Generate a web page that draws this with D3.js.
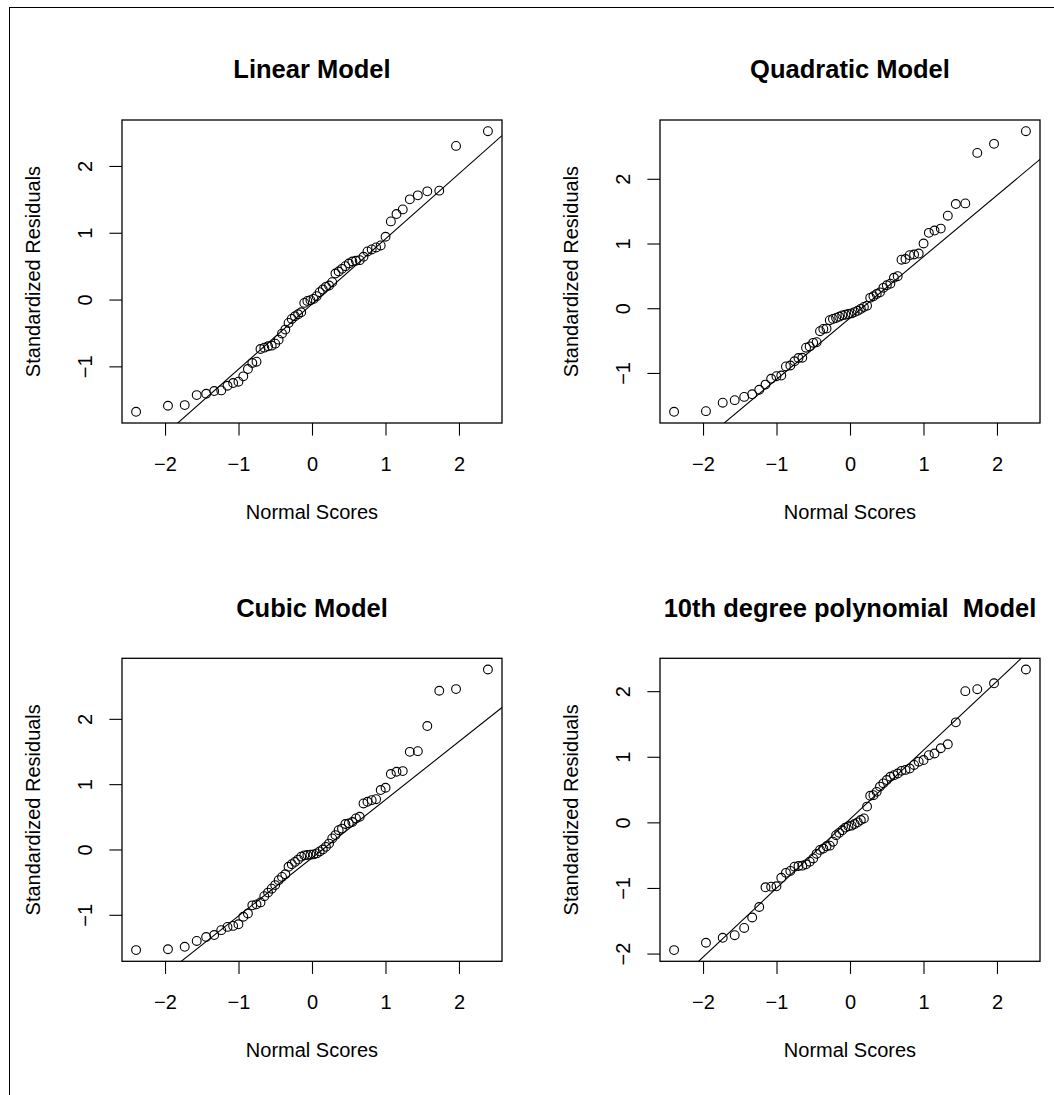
<!DOCTYPE html>
<html lang="en">
<head>
<meta charset="UTF-8">
<title>Normal QQ plots of standardized residuals</title>
<script src="https://d3js.org/d3.v7.min.js"></script>
<style>
  body { margin: 0; background: #fff; }
  svg text { font-family: "Liberation Sans", Arial, Helvetica, sans-serif; fill: #000; }
</style>
</head>
<body>
<svg width="1054" height="1095"></svg>
<script>
// normal scores (x values) shared by all four panels, n = 60
var normalScores = [
  -2.394, -1.960, -1.732, -1.569, -1.440, -1.331, -1.235, -1.150, -1.073, -1.001,
  -0.935, -0.872, -0.812, -0.755, -0.701, -0.649, -0.598, -0.549, -0.501, -0.454,
  -0.408, -0.363, -0.319, -0.275, -0.232, -0.189, -0.147, -0.105, -0.063, -0.021,
   0.021,  0.063,  0.105,  0.147,  0.189,  0.232,  0.275,  0.319,  0.363,  0.408,
   0.454,  0.501,  0.549,  0.598,  0.649,  0.701,  0.755,  0.812,  0.872,  0.935,
   1.001,  1.073,  1.150,  1.235,  1.331,  1.440,  1.569,  1.732,  1.960,  2.394
];

// sorted standardized residuals, one array per model
var linearResid = [
  -1.68, -1.59, -1.58, -1.43, -1.41, -1.37, -1.36, -1.29, -1.25, -1.23,
  -1.15, -1.04, -0.95, -0.93, -0.74, -0.72, -0.70, -0.69, -0.66, -0.60,
  -0.51, -0.45, -0.35, -0.29, -0.25, -0.22, -0.19, -0.05, -0.02, -0.01,
   0.01,  0.05,  0.11,  0.15,  0.19,  0.21,  0.26,  0.39,  0.42,  0.46,
   0.50,  0.54,  0.57,  0.58,  0.59,  0.64,  0.72,  0.75,  0.78,  0.81,
   0.94,  1.17,  1.28,  1.35,  1.50,  1.56,  1.62,  1.63,  2.30,  2.52
];
var quadraticResid = [
  -1.60, -1.59, -1.46, -1.42, -1.37, -1.33, -1.26, -1.18, -1.09, -1.05,
  -1.04, -0.90, -0.885, -0.82, -0.77, -0.765, -0.61, -0.59, -0.535, -0.525,
  -0.355, -0.32, -0.315, -0.185, -0.165, -0.15, -0.13, -0.11, -0.10, -0.09,
  -0.08, -0.06, -0.04, -0.01, 0.02, 0.04, 0.16, 0.185, 0.22, 0.245,
   0.315, 0.355, 0.38, 0.47, 0.495, 0.75, 0.76, 0.82, 0.83, 0.845,
   1.00, 1.165, 1.20, 1.23, 1.43, 1.61, 1.62, 2.40, 2.54, 2.735
];
var cubicResid = [
  -1.54, -1.527, -1.49, -1.40, -1.34, -1.31, -1.235, -1.185, -1.17, -1.145,
  -1.03, -0.98, -0.855, -0.84, -0.81, -0.715, -0.66, -0.60, -0.545, -0.47,
  -0.42, -0.38, -0.265, -0.225, -0.19, -0.155, -0.11, -0.09, -0.085, -0.08,
  -0.075, -0.06, -0.03, 0.0, 0.04, 0.09, 0.17, 0.22, 0.295, 0.32,
   0.39, 0.40, 0.42, 0.475, 0.50, 0.705, 0.73, 0.755, 0.77, 0.91,
   0.945, 1.155, 1.19, 1.20, 1.495, 1.505, 1.89, 2.43, 2.455, 2.755
];
var poly10Resid = [
  -1.947, -1.835, -1.76, -1.72, -1.61, -1.45, -1.29, -0.99, -0.98, -0.975,
  -0.845, -0.77, -0.74, -0.675, -0.665, -0.66, -0.64, -0.60, -0.55, -0.48,
  -0.42, -0.40, -0.365, -0.355, -0.295, -0.195, -0.16, -0.12, -0.08, -0.06,
  -0.05, -0.025, 0.0, 0.035, 0.06, 0.24, 0.405, 0.415, 0.465, 0.545,
   0.595, 0.645, 0.695, 0.72, 0.745, 0.785, 0.80, 0.82, 0.875, 0.925,
   0.95, 1.025, 1.05, 1.13, 1.19, 1.525, 2.00, 2.03, 2.12, 2.33
];

var titles = ["Linear Model", "Quadratic Model", "Cubic Model", "10th degree polynomial  Model"];
var residuals = [linearResid, quadraticResid, cubicResid, poly10Resid];
// qqline of each panel (intercept, slope)
var lineIntercept = [-0.067, -0.151, -0.128, 0.049];
var lineSlope = [0.975, 0.948, 0.890, 1.052];
var xTicks = [-2, -1, 0, 1, 2];
var yTicks = [[-1, 0, 1, 2], [-1, 0, 1, 2], [-1, 0, 1, 2], [-2, -1, 0, 1, 2]];

var svg = d3.select("svg");

// outer frame
svg.append("rect")
  .attr("x", 9.5).attr("y", 7.5)
  .attr("width", 1200).attr("height", 1200)
  .attr("fill", "none").attr("stroke", "#000").attr("stroke-width", 1);

var lefts = [122, 660], tops = [120, 658.3];
var pw = 380, ph = 303, tick = 12.6;

function pad(ext) {
  var e = (ext[1] - ext[0]) * 0.04;
  return [ext[0] - e, ext[1] + e];
}

var x = d3.scaleLinear().domain(pad(d3.extent(normalScores))).range([0, pw]);
var fmt = d3.format("d");

residuals.forEach(function(res, i) {
  var col = i % 2, row = Math.floor(i / 2);
  var g = svg.append("g")
    .attr("transform", "translate(" + lefts[col] + "," + tops[row] + ")");

  var y = d3.scaleLinear().domain(pad(d3.extent(res))).range([ph, 0]);

  g.append("clipPath").attr("id", "clip" + i)
    .append("rect").attr("width", pw).attr("height", ph);

  // reference line
  var xd = x.domain();
  g.append("path")
    .datum(xd)
    .attr("clip-path", "url(#clip" + i + ")")
    .attr("fill", "none").attr("stroke", "#000").attr("stroke-width", 1.1)
    .attr("d", d3.line()
      .x(function(d) { return x(d); })
      .y(function(d) { return y(lineIntercept[i] + lineSlope[i] * d); }));

  // points
  g.selectAll(".pt")
    .data(res)
    .enter().append("circle")
    .attr("class", "pt")
    .attr("cx", function(d, j) { return x(normalScores[j]); })
    .attr("cy", function(d) { return y(d); })
    .attr("r", 4.4)
    .attr("fill", "none").attr("stroke", "#000").attr("stroke-width", 1.1);

  // x axis
  var gx = g.append("g")
    .attr("transform", "translate(0," + ph + ")")
    .call(d3.axisBottom(x).tickValues(xTicks).tickSize(tick).tickFormat(fmt));
  gx.select(".domain").remove();
  gx.selectAll("line").attr("stroke", "#000").attr("stroke-width", 1.1);
  gx.selectAll("text")
    .attr("y", 48).attr("dy", 0)
    .style("font-size", "20px");

  // y axis
  var gy = g.append("g")
    .call(d3.axisLeft(y).tickValues(yTicks[i]).tickSize(tick).tickFormat(fmt));
  gy.select(".domain").remove();
  gy.selectAll("line").attr("stroke", "#000").attr("stroke-width", 1.1);
  gy.selectAll("text")
    .attr("x", 0).attr("y", 0).attr("dy", 0)
    .attr("text-anchor", "middle")
    .attr("transform", "translate(-30.3,0) rotate(-90)")
    .style("font-size", "20px");

  // box
  g.append("rect")
    .attr("width", pw).attr("height", ph)
    .attr("fill", "none").attr("stroke", "#000").attr("stroke-width", 1.3);

  // title and labels
  g.append("text")
    .attr("x", pw / 2).attr("y", -41.7)
    .attr("text-anchor", "middle")
    .style("font-size", "25.5px").style("font-weight", "bold")
    .style("white-space", "pre")
    .text(titles[i]);

  g.append("text")
    .attr("x", pw / 2).attr("y", ph + 96)
    .attr("text-anchor", "middle")
    .style("font-size", "20px")
    .text("Normal Scores");

  g.append("text")
    .attr("transform", "translate(-82," + (ph / 2) + ") rotate(-90)")
    .attr("text-anchor", "middle")
    .style("font-size", "20px")
    .text("Standardized Residuals");
});
</script>
</body>
</html>
